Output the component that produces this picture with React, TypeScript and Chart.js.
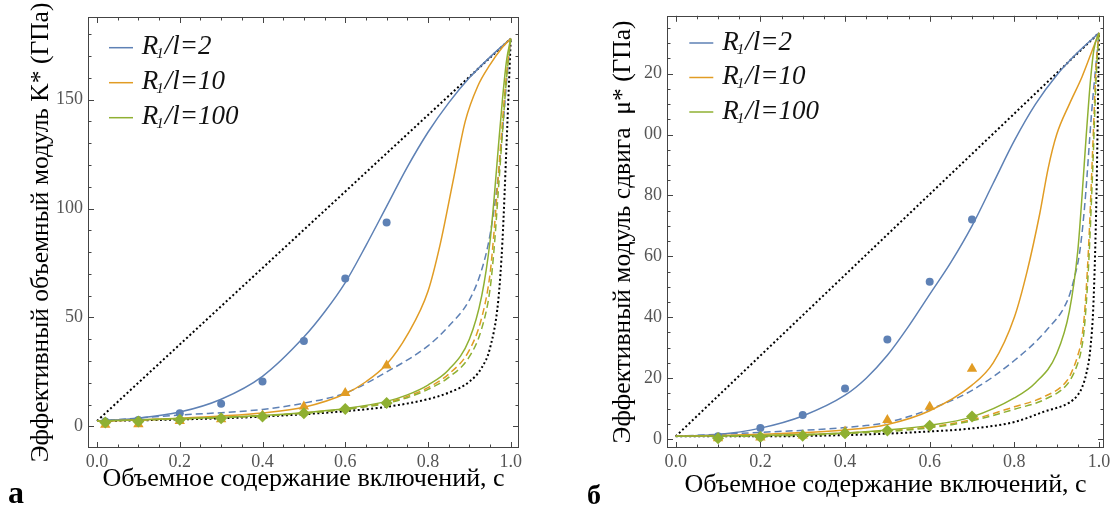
import React, { useEffect, useRef } from 'react';
import { Chart, registerables } from 'chart.js';

Chart.register(...registerables);

const BLUE = '#5E81B5';
const ORANGE = '#E19C24';
const GREEN = '#8FB032';
const SERIF = '"Liberation Serif", "Times New Roman", serif';

// ---------------- Panel а : bulk modulus K* (GPa) ----------------
const kMarkerC = [0.02, 0.1, 0.2, 0.3, 0.4, 0.5, 0.6, 0.7];
const kBlueMarkers = [2.3, 3.0, 6.1, 10.4, 20.6, 39.2, 67.9, 93.6];
const kOrangeMarkers = [0.8, 1.0, 2.5, 3.3, 5.0, 9.2, 15.3, 28.0];
const kGreenMarkers = [1.8, 2.3, 3.1, 3.8, 4.6, 6.1, 8.0, 10.7];

const kUpperC = [0, 1];
const kUpper = [2.5, 178];

const kBlueSolidC = [0, 0.1, 0.2, 0.3, 0.4, 0.5, 0.55, 0.6, 0.65, 0.7, 0.75, 0.8, 0.85, 0.9, 0.95, 1];
const kBlueSolid = [2.5, 3.8, 6.6, 12.5, 23.0, 41, 52.5, 66, 83, 101, 119, 135, 148.5, 160, 169.5, 178];

const kOrangeSolidC = [0, 0.1, 0.2, 0.3, 0.4, 0.5, 0.6, 0.65, 0.7, 0.75, 0.8, 0.83, 0.86, 0.89, 0.92, 0.95, 0.98, 1];
const kOrangeSolid = [2.5, 3.0, 3.8, 4.8, 6.2, 8.8, 15, 20.5, 28.5, 42, 62, 84, 112, 140, 156, 166, 174, 178];

const kGreenSolidC = [0, 0.2, 0.4, 0.5, 0.6, 0.7, 0.75, 0.8, 0.85, 0.9, 0.93, 0.95, 0.96, 0.97, 0.98, 0.99, 1];
const kGreenSolid = [2.5, 3.6, 5.0, 6.3, 8.2, 11.5, 14.5, 19, 26, 40, 60, 85, 105, 128, 150, 168, 178];

const kBlueDashedC = [0, 0.2, 0.4, 0.5, 0.6, 0.7, 0.8, 0.85, 0.9, 0.93, 0.95, 0.97, 0.98, 0.99, 1];
const kBlueDashed = [2.5, 5.2, 7.8, 10.7, 15.3, 25, 37, 46, 58, 72, 88, 115, 135, 158, 178];

const kOrangeDashedC = [0, 0.2, 0.4, 0.5, 0.6, 0.7, 0.75, 0.8, 0.85, 0.9, 0.93, 0.95, 0.96, 0.97, 0.98, 0.99, 1];
const kOrangeDashed = [2.5, 3.5, 4.9, 6.2, 8.0, 11, 13.8, 17.8, 24, 35, 50, 70, 90, 115, 140, 162, 178];

const kGreenDashedC = [0, 0.2, 0.4, 0.5, 0.6, 0.7, 0.75, 0.8, 0.85, 0.9, 0.93, 0.95, 0.96, 0.97, 0.98, 0.99, 1];
const kGreenDashed = [2.5, 3.4, 4.8, 6.0, 7.8, 10.6, 13.2, 17, 22.5, 32, 45, 63, 82, 108, 135, 160, 178];

const kLowerC = [0, 0.2, 0.4, 0.6, 0.7, 0.8, 0.85, 0.9, 0.93, 0.95, 0.97, 0.98, 0.99, 1];
const kLower = [2.5, 3.2, 4.5, 7.0, 9.0, 12.5, 15.5, 20.5, 27, 36, 58, 85, 130, 178];

// ---------------- Panel б : shear modulus mu* (GPa) ----------------
const muMarkerC = [0.1, 0.2, 0.3, 0.4, 0.5, 0.6, 0.7];
const muBlueMarkers = [0.9, 3.6, 7.9, 16.6, 32.7, 51.7, 72.1];
const muOrangeMarkers = [0.3, 0.5, 1.2, 2.5, 6.3, 10.6, 23.1];
const muGreenMarkers = [0.3, 0.7, 1.1, 1.9, 2.8, 4.4, 7.4];

const muUpperC = [0, 1];
const muUpper = [0.9, 133.4];

const muBlueSolidC = [0, 0.1, 0.2, 0.3, 0.4, 0.45, 0.5, 0.55, 0.6, 0.65, 0.7, 0.75, 0.8, 0.85, 0.9, 0.95, 1];
const muBlueSolid = [0.9, 1.5, 3.6, 7.6, 14.4, 20, 27.5, 37, 47.5, 58, 70, 84, 98, 110, 119.5, 127, 133.4];

const muOrangeSolidC = [0, 0.2, 0.4, 0.5, 0.6, 0.7, 0.75, 0.8, 0.83, 0.86, 0.88, 0.9, 0.93, 0.96, 0.985, 1];
const muOrangeSolid = [0.9, 1.6, 3.0, 4.8, 9.3, 17.7, 25, 40, 55, 74, 89, 100, 110, 119, 128, 133.4];

const muGreenSolidC = [0, 0.2, 0.4, 0.5, 0.6, 0.7, 0.8, 0.85, 0.9, 0.93, 0.95, 0.96, 0.97, 0.98, 0.988, 1];
const muGreenSolid = [0.9, 1.2, 2.0, 3.0, 4.5, 7.3, 13.5, 18.5, 28, 42, 62, 80, 100, 118, 128, 133.4];

const muBlueDashedC = [0, 0.2, 0.4, 0.5, 0.6, 0.7, 0.8, 0.875, 0.925, 0.94, 0.955, 0.967, 0.983, 1];
const muBlueDashed = [0.9, 2.2, 3.8, 5.5, 9.8, 16, 25.8, 35.6, 45.4, 52, 62, 78, 108, 133.4];

const muOrangeDashedC = [0, 0.2, 0.4, 0.6, 0.7, 0.8, 0.87, 0.925, 0.94, 0.95, 0.957, 0.965, 0.975, 0.985, 0.993, 1];
const muOrangeDashed = [0.9, 1.1, 2.0, 4.0, 6.4, 10.6, 13.9, 19.3, 23.5, 27.5, 31.3, 40, 62, 95, 122, 133.4];

const muGreenDashedC = [0, 0.2, 0.4, 0.6, 0.7, 0.8, 0.87, 0.925, 0.94, 0.95, 0.957, 0.965, 0.975, 0.985, 0.993, 1];
const muGreenDashed = [0.9, 1.0, 1.8, 3.7, 6.0, 9.8, 12.9, 18, 21.5, 25, 28.5, 36, 56, 88, 118, 133.4];

const muLowerC = [0, 0.2, 0.4, 0.5, 0.6, 0.7, 0.8, 0.87, 0.93, 0.95, 0.96, 0.97, 0.979, 0.987, 0.994, 1];
const muLower = [0.9, 0.9, 1.3, 1.8, 2.5, 3.5, 5.6, 9.0, 12, 14.5, 17, 21.5, 29, 45, 80, 133.4];

// ---------------- ticks / labels ----------------
const cMajorTicks = [0, 0.2, 0.4, 0.6, 0.8, 1.0];
const kMajorTicks = [0, 50, 100, 150];
const muMajorTicks = [0, 20, 40, 60, 80, 100, 120];
const legendLabels = ['2', '10', '100'];
const legendColors = [BLUE, ORANGE, GREEN];

const xTitle = 'Объемное содержание включений, c';
const kTitle = 'Эффективный объемный модуль K* (ГПа)';
const muTitle = 'Эффективный модуль сдвига  μ* (ГПа)';

function pts(c: number[], v: number[]) {
  return c.map((x, i) => ({ x, y: v[i] }));
}

function lineDs(c: number[], v: number[], color: string, dash: number[], width: number, order: number) {
  return {
    type: 'line' as const,
    data: pts(c, v),
    borderColor: color,
    backgroundColor: color,
    borderWidth: width,
    borderDash: dash,
    pointRadius: 0,
    fill: false,
    cubicInterpolationMode: 'monotone' as const,
    order,
  };
}

function markerDs(c: number[], v: number[], color: string, style: string, radius: number, order: number) {
  return {
    type: 'line' as const,
    data: pts(c, v),
    showLine: false,
    pointStyle: style,
    pointRadius: radius,
    pointBackgroundColor: color,
    pointBorderColor: color,
    pointBorderWidth: 0,
    order,
  };
}

const frameTicksPlugin = {
  id: 'frameTicks',
  afterDraw(chart: any, _args: any, opts: any) {
    const { ctx, chartArea: a, scales } = chart;
    const xs = scales.x;
    const ys = scales.y;
    ctx.save();
    ctx.strokeStyle = '#444';
    ctx.lineWidth = 1;
    ctx.strokeRect(Math.round(a.left) + 0.5, Math.round(a.top) + 0.5, Math.round(a.right - a.left) - 1, Math.round(a.bottom - a.top) - 1);
    const seg = (x1: number, y1: number, x2: number, y2: number) => {
      ctx.beginPath();
      ctx.moveTo(x1, y1);
      ctx.lineTo(x2, y2);
      ctx.stroke();
    };
    const doX = (v: number, len: number) => {
      const px = Math.round(xs.getPixelForValue(v)) + 0.5;
      seg(px, a.bottom, px, a.bottom - len);
      seg(px, a.top, px, a.top + len);
    };
    const doY = (v: number, len: number) => {
      const py = Math.round(ys.getPixelForValue(v)) + 0.5;
      seg(a.left, py, a.left + len, py);
      seg(a.right, py, a.right - len, py);
    };
    for (let i = 0; i <= 20; i++) {
      const v = i * 0.05;
      if (i % 4 === 0) doX(v, 6);
      else doX(v, 3.5);
    }
    const yStep = opts.yMinor;
    for (let v = 0; v <= ys.max; v += yStep) {
      if (Math.abs(v % opts.yMajor) < 1e-6) doY(v, 6);
      else doY(v, 3.5);
    }
    ctx.restore();
  },
};

const legendPlugin = {
  id: 'curveLegend',
  afterDraw(chart: any, _args: any, opts: any) {
    const { ctx } = chart;
    ctx.save();
    legendLabels.forEach((lab, i) => {
      const y = opts.y + i * opts.dy;
      ctx.strokeStyle = legendColors[i];
      ctx.lineWidth = 1.5;
      ctx.beginPath();
      ctx.moveTo(opts.x, y);
      ctx.lineTo(opts.x + 24, y);
      ctx.stroke();
      let x = opts.tx;
      const base = y + 6.6;
      ctx.fillStyle = '#111';
      ctx.textBaseline = 'alphabetic';
      ctx.textAlign = 'left';
      ctx.font = `italic 27px ${SERIF}`;
      ctx.fillText('R', x, base);
      x += ctx.measureText('R').width - 2;
      ctx.font = `italic 15px ${SERIF}`;
      ctx.fillText('1', x, base + 4);
      x += ctx.measureText('1').width + 1;
      ctx.font = `italic 27px ${SERIF}`;
      ctx.fillText('/l=' + lab, x, base);
    });
    ctx.restore();
  },
};

function buildConfig(panel: 'K' | 'mu'): any {
  const isK = panel === 'K';
  const datasets = isK
    ? [
        lineDs(kUpperC, kUpper, '#000', [2, 2.5], 2, 20),
        lineDs(kLowerC, kLower, '#000', [2, 2.5], 2, 19),
        lineDs(kBlueDashedC, kBlueDashed, BLUE, [7, 4], 1.5, 18),
        lineDs(kOrangeDashedC, kOrangeDashed, ORANGE, [7, 4], 1.5, 17),
        lineDs(kGreenDashedC, kGreenDashed, GREEN, [7, 4], 1.5, 16),
        lineDs(kBlueSolidC, kBlueSolid, BLUE, [], 1.5, 15),
        lineDs(kOrangeSolidC, kOrangeSolid, ORANGE, [], 1.5, 14),
        lineDs(kGreenSolidC, kGreenSolid, GREEN, [], 1.5, 13),
        markerDs(kMarkerC, kBlueMarkers, BLUE, 'circle', 4, 12),
        markerDs(kMarkerC, kOrangeMarkers, ORANGE, 'triangle', 6, 11),
        markerDs(kMarkerC, kGreenMarkers, GREEN, 'rectRot', 6, 10),
      ]
    : [
        lineDs(muUpperC, muUpper, '#000', [2, 2.5], 2, 20),
        lineDs(muLowerC, muLower, '#000', [2, 2.5], 2, 19),
        lineDs(muBlueDashedC, muBlueDashed, BLUE, [7, 4], 1.5, 18),
        lineDs(muOrangeDashedC, muOrangeDashed, ORANGE, [7, 4], 1.5, 17),
        lineDs(muGreenDashedC, muGreenDashed, GREEN, [7, 4], 1.5, 16),
        lineDs(muBlueSolidC, muBlueSolid, BLUE, [], 1.5, 15),
        lineDs(muOrangeSolidC, muOrangeSolid, ORANGE, [], 1.5, 14),
        lineDs(muGreenSolidC, muGreenSolid, GREEN, [], 1.5, 13),
        markerDs(muMarkerC, muBlueMarkers, BLUE, 'circle', 4, 12),
        markerDs(muMarkerC, muOrangeMarkers, ORANGE, 'triangle', 6, 11),
        markerDs(muMarkerC, muGreenMarkers, GREEN, 'rectRot', 6, 10),
      ];

  const yWidth = isK ? 88 : 112;
  const xHeight = 60;
  return {
    type: 'line',
    data: { datasets },
    plugins: [frameTicksPlugin, legendPlugin],
    options: {
      responsive: false,
      animation: false,
      events: [],
      layout: {
        padding: isK ? { left: 0, top: 17, right: 36, bottom: 0 } : { left: 0, top: 13, right: 11, bottom: 0 },
      },
      plugins: {
        legend: { display: false },
        tooltip: { enabled: false },
        frameTicks: { yMajor: isK ? 50 : 20, yMinor: isK ? 10 : 5 },
        curveLegend: isK ? { x: 109, y: 47.7, dy: 35, tx: 141.7 } : { x: 134.3, y: 43, dy: 34.5, tx: 167.3 },
      },
      scales: {
        x: {
          type: 'linear',
          min: isK ? -0.0218 : -0.0206,
          max: isK ? 1.02 : 1.0118,
          afterFit: (s: any) => {
            s.height = xHeight;
          },
          grid: { display: false, drawTicks: false },
          border: { display: false },
          afterBuildTicks: (s: any) => {
            s.ticks = cMajorTicks.map((v) => ({ value: v }));
          },
          ticks: {
            autoSkip: false,
            maxRotation: 0,
            padding: 3,
            color: '#555',
            font: { family: SERIF, size: 18 },
            callback: (v: any) => Number(v).toFixed(1),
          },
          title: {
            display: true,
            text: xTitle,
            color: '#000',
            font: { family: SERIF, size: 26 },
            padding: { top: 0, bottom: isK ? 13 : 7 },
          },
        },
        y: {
          type: 'linear',
          min: isK ? -9.9 : -2.93,
          max: isK ? 187.9 : 139,
          afterFit: (s: any) => {
            s.width = yWidth;
          },
          afterBuildTicks: (s: any) => {
            s.ticks = (isK ? kMajorTicks : muMajorTicks).map((v) => ({ value: v }));
          },
          grid: { display: false, drawTicks: false },
          border: { display: false },
          ticks: {
            autoSkip: false,
            padding: 5,
            color: '#555',
            font: { family: SERIF, size: 18 },
            callback: (v: any) => (Number(v) >= 100 && !isK ? String(v).slice(-2) : String(v)),
          },
          title: {
            display: true,
            text: isK ? kTitle : muTitle,
            color: '#000',
            font: { family: SERIF, size: 25.5 },
            padding: { top: isK ? 26 : 53, bottom: 0 },
          },
        },
      },
    },
  };
}

function Panel({ panel, left, width }: { panel: 'K' | 'mu'; left: number; width: number }) {
  const ref = useRef<HTMLCanvasElement>(null);
  useEffect(() => {
    const chart = new Chart(ref.current as HTMLCanvasElement, buildConfig(panel));
    return () => chart.destroy();
  }, [panel]);
  return (
    <canvas
      ref={ref}
      width={width}
      height={508}
      style={{ position: 'absolute', left, top: 0, width, height: 508, display: 'block' }}
    />
  );
}

export default function App() {
  return (
    <div style={{ position: 'absolute', left: 0, top: 0, width: 1115, height: 508, background: '#fff', overflow: 'hidden' }}>
      <Panel panel="K" left={0} width={555} />
      <Panel panel="mu" left={555} width={560} />
      <div style={{ position: 'absolute', left: 8, top: 476, font: `bold 32px ${SERIF}`, lineHeight: '32px', color: '#000' }}>а</div>
      <div style={{ position: 'absolute', left: 587, top: 481, font: `bold 28px ${SERIF}`, lineHeight: '28px', color: '#000' }}>б</div>
    </div>
  );
}
